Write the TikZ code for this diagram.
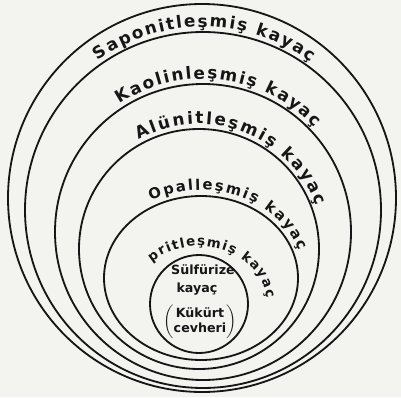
\documentclass[tikz,border=0pt]{standalone}
\usepackage{fontspec}
\setmainfont{DejaVu Sans}
\usetikzlibrary{decorations.text}
\definecolor{paper}{RGB}{243,243,239}
\definecolor{ink}{RGB}{22,22,22}
\tikzset{
  zone/.style={draw=ink, line width=1.3pt},
  arclabel/.style 2 args={decorate, decoration={text along path,
              text align={fit to path}, text color=ink,
              text={|\bfseries\fontsize{#1}{#1}\selectfont|#2}}},
  core/.style={text=ink, inner sep=0pt, font=\bfseries\fontsize{9}{10.5}\selectfont}
}

\begin{document}
\begin{tikzpicture}[x=0.025cm, y=0.025cm]
  \fill[paper] (0,0) rectangle (401,397);
  \useasboundingbox (0,0) rectangle (401,397);

  % centres of the zones
  \coordinate (c1) at (202,199);
  \coordinate (c2) at (203,187);
  \coordinate (c3) at (203,165);
  \coordinate (c4) at (199,148);
  \coordinate (c5) at (201,119);
  \coordinate (c6) at (199,93);

  \draw[zone] (c1) circle[radius=194];
  \draw[zone] (c2) circle[radius=178];
  \draw[zone] (c3) circle[radius=148];
  \draw[zone] (c4) circle[radius=120];
  \draw[zone] (c5) ellipse[x radius=97, y radius=82];
  \draw[zone] (c6) circle[radius=49];

  % ring labels
  \path[arclabel={12}{Saponitleşmiş kayaç}]
    ([shift={(125:183)}]c2) arc[start angle=125, end angle=54, radius=183];
  \path[arclabel={12}{Kaolinleşmiş kayaç}]
    ([shift={(123:153)}]c3) arc[start angle=123, end angle=43, radius=153];
  \path[arclabel={12}{Alünitleşmiş kayaç}]
    ([shift={(119:125)}]c4) arc[start angle=119, end angle=20, radius=125];
  \path[arclabel={10.5}{Opalleşmiş kayaç}]
    ([shift={(119:103 and 88)}]c5) arc[start angle=119, end angle=18, x radius=103, y radius=88];
  \path[arclabel={9.5}{pritleşmiş kayaç}]
    ([shift={(134:68 and 58)}]c6) arc[start angle=134, end angle=6, x radius=68, y radius=58];

  % core
  \node[core] (sulf) at (203,127) {Sülfürize};
  \node[core] (rock) at (197,108) {kayaç};
  \node[core] (ore)  at (200,75)
    {$\left(\begin{tabular}{@{}c@{}}Kükürt\\cevheri\end{tabular}\right)$};
\end{tikzpicture}
\end{document}
